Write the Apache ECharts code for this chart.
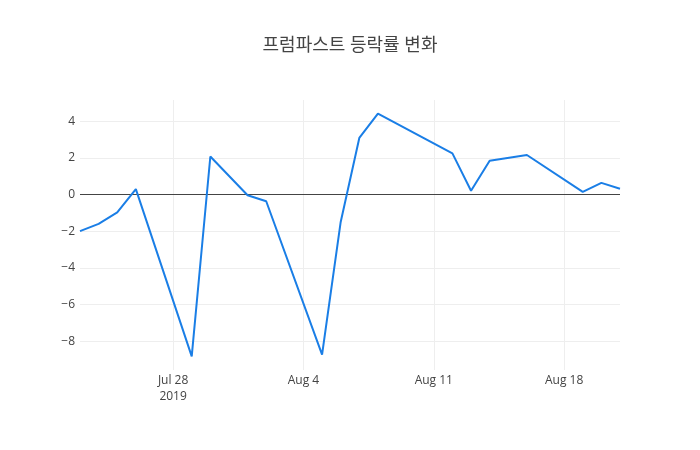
<!DOCTYPE html>
<html>
<head>
<meta charset="utf-8">
<script src="https://cdn.jsdelivr.net/npm/echarts@6/dist/echarts.min.js"></script>
<style>
  html, body { margin: 0; padding: 0; background: #fff; }
  #chart { width: 700px; height: 450px; }
</style>
</head>
<body>
<div id="chart"></div>
<script>
// 날짜 / 등락률(%)
var dates = ['2019-07-23', '2019-07-24', '2019-07-25', '2019-07-26', '2019-07-29', '2019-07-30',
  '2019-08-01', '2019-08-02', '2019-08-05', '2019-08-06', '2019-08-07', '2019-08-08',
  '2019-08-12', '2019-08-13', '2019-08-14', '2019-08-16', '2019-08-19', '2019-08-20', '2019-08-21'];
var rates = [-2.0, -1.6, -0.98, 0.29, -8.83, 2.07, -0.04, -0.37, -8.73, -1.5, 3.08, 4.41,
  2.24, 0.2, 1.84, 2.15, 0.14, 0.63, 0.31];
var xTicks = ['2019-07-28', '2019-08-04', '2019-08-11', '2019-08-18'];
var yTicks = [-8, -6, -4, -2, 0, 2, 4];

var DAY = 86400000;
var origin = Date.UTC(2019, 6, 28);
// 날짜 -> 기준일(7/28)로부터의 일수
function dayNum(d) {
  var p = d.split('-');
  return Math.round((Date.UTC(+p[0], +p[1] - 1, +p[2]) - origin) / DAY);
}
var months = ['Jan', 'Feb', 'Mar', 'Apr', 'May', 'Jun', 'Jul', 'Aug', 'Sep', 'Oct', 'Nov', 'Dec'];

var myChart = echarts.init(document.getElementById('chart'));
var tickDays = xTicks.map(dayNum);

var option = {
  animation: false,
  title: {
    text: '프럼파스트 등락률 변화',
    left: 'center',
    top: 32,
    textStyle: {
      color: '#444',
      fontSize: 18,
      fontWeight: 'normal',
      fontFamily: '"Open Sans", "Noto Sans CJK KR", sans-serif'
    }
  },
  grid: { left: 80, right: 80, top: 100, bottom: 80, containLabel: false },
  xAxis: {
    type: 'value',
    min: dayNum(dates[0]),
    max: dayNum(dates[dates.length - 1]),
    axisLine: { show: false },
    axisTick: { show: false, customValues: tickDays },
    splitLine: { show: true, lineStyle: { color: '#eee', width: 1 } },
    axisLabel: {
      customValues: tickDays,
      color: '#444',
      fontSize: 12,
      fontFamily: '"Open Sans", sans-serif',
      margin: 3,
      lineHeight: 16,
      formatter: function (v) {
        var d = new Date(origin + v * DAY);
        var s = months[d.getUTCMonth()] + ' ' + d.getUTCDate();
        if (v === tickDays[0]) s += '\n' + d.getUTCFullYear();
        return s;
      }
    }
  },
  yAxis: {
    type: 'value',
    min: -9.57,
    max: 5.15,
    axisLine: { show: false },
    axisTick: { show: false, customValues: yTicks },
    splitLine: { show: true, lineStyle: { color: '#eee', width: 1 } },
    axisLabel: {
      customValues: yTicks,
      color: '#444',
      fontSize: 12,
      fontFamily: '"Open Sans", sans-serif',
      margin: 5,
      formatter: function (v) {
        return String(v).replace('-', '\u2212');
      }
    }
  },
  series: [{
    name: '등락률',
    type: 'line',
    showSymbol: false,
    symbol: 'none',
    lineStyle: { color: '#1a7ee6', width: 2 },
    itemStyle: { color: '#1a7ee6' },
    data: dates.map(function (d, i) { return [dayNum(d), rates[i]]; }),
    markLine: {
      silent: true,
      symbol: 'none',
      label: { show: false },
      lineStyle: { color: '#444', width: 1, type: 'solid' },
      data: [{ yAxis: 0 }],
      z: 1
    }
  }]
};

myChart.setOption(option);
</script>
</body>
</html>
